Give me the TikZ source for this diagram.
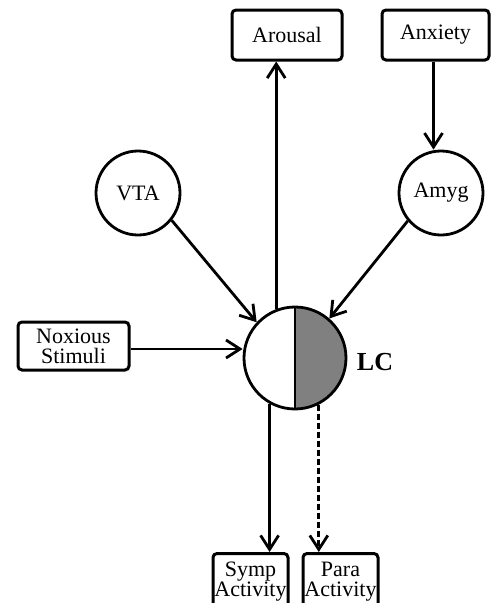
\documentclass[tikz,border=0pt]{standalone}
\usepackage{fontspec}
\setmainfont{Liberation Serif}
\usetikzlibrary{arrows.meta,calc}
\definecolor{lcgray}{RGB}{128,128,128}
\begin{document}
\begin{tikzpicture}[x=1pt,y=1pt,
  txt/.style={font=\fontsize{22}{20}\selectfont},
  box/.style={draw, line width=3pt, rounded corners=4pt, inner sep=0pt, align=center, txt},
  circ/.style={draw, circle, line width=2.8pt, minimum size=84pt, inner sep=0pt, txt},
  link/.style={line width=2.8pt, -{Straight Barb[length=14pt,width=18pt,line width=2.8pt]}},
]
\useasboundingbox (0,0) rectangle (491,-603);
\clip (0,0) rectangle (491,-603);
\coordinate (lcc) at (295,-358);
\fill[lcgray] ($(lcc)+(0,51)$) arc[start angle=90, end angle=-90, radius=51] -- cycle;
\node[draw, circle, line width=2.8pt, minimum size=102pt, inner sep=0pt] (lc) at (lcc) {};
\draw[line width=2.8pt] ($(lcc)+(0,51)$) -- ($(lcc)+(0,-51)$);
\node[font=\bfseries\fontsize{26}{26}\selectfont] (lclabel) at (375,-362) {LC};
\node[box, minimum width=110, minimum height=50] (arousal) at (287,-35) {Arousal};
\node[box, minimum width=107, minimum height=50] (anxiety) at (435.5,-35) {Anxiety};
\node[circ] (vta) at (138,-193) {VTA};
\node[circ] (amyg) at (441,-193) {Amyg};
\node[box, minimum width=111, minimum height=48] (nox) at (73.5,-346) {Noxious\\Stimuli};
\node[box, minimum width=75, minimum height=56, anchor=north] (symp) at (250.5,-552) {Symp\\Activity};
\node[box, minimum width=75, minimum height=56, anchor=north] (para) at (340.5,-552) {Para\\Activity};
\draw[link] (vta.-39) -- (lc.137);
\draw[link] (amyg.220) -- (lc.49);
\draw[link] ([yshift=-3pt]nox.east) -- ([yshift=-3pt]nox.east -| lc.west);
\draw[link] (lc.111) -- (lc.111 |- arousal.south);
\draw[link] ([xshift=-2pt]anxiety.south) -- ([xshift=-2pt]anxiety.south |- amyg.north);
\draw[link] (lc.-119) -- (lc.-119 |- symp.north);
\draw[link, dash pattern=on 6pt off 3pt] (lc.-63) -- (lc.-63 |- para.north);
\end{tikzpicture}
\end{document}
